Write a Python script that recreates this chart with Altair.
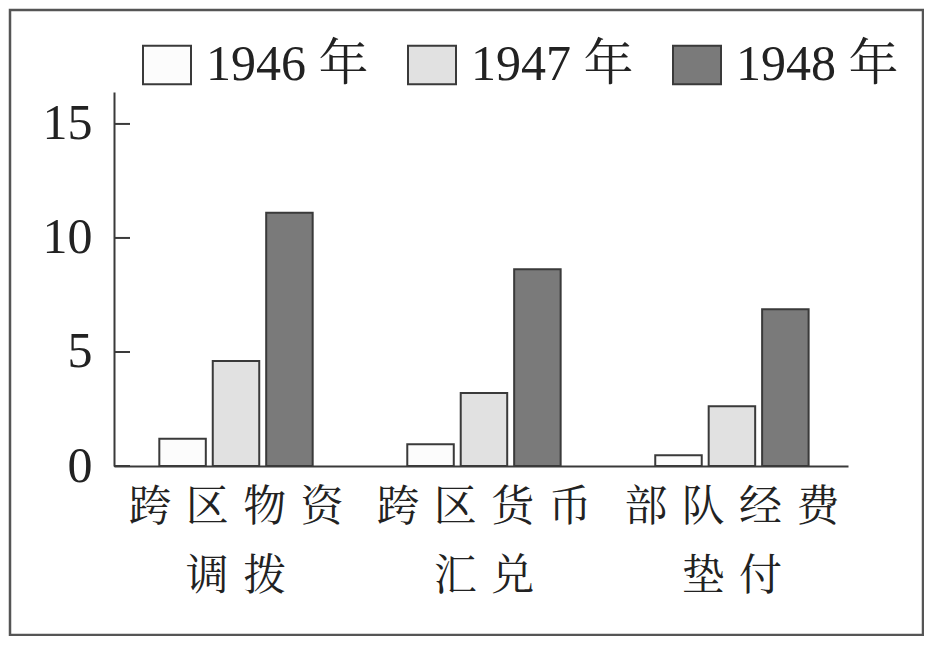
import altair as alt
import pandas as pd

# ---- data ----
categories = ["跨区物资调拨", "跨区货币汇兑", "部队经费垫付"]
label_lines = [["跨区物资", "调拨"], ["跨区货币", "汇兑"], ["部队经费", "垫付"]]
years = ["1946 年", "1947 年", "1948 年"]
v1946 = [1.2, 0.95, 0.47]
v1947 = [4.6, 3.2, 2.62]
v1948 = [11.1, 8.63, 6.87]
y_ticks = [0, 5, 10, 15]
colors = ["#fcfcfc", "#e1e1e1", "#7a7a7a"]

rows = []
for i, c in enumerate(categories):
    for y, vals in zip(years, [v1946, v1947, v1948]):
        rows.append({"category": c, "year": y, "value": vals[i]})
df = pd.DataFrame(rows)
tick_df = pd.DataFrame({"value": y_ticks})

SP = "\u2004"
def lbl(parts):
    return "[" + ", ".join("'" + SP.join(list(p)) + "'" for p in parts) + "]"

expr = "''"
for c, parts in reversed(list(zip(categories, label_lines))):
    expr = f"datum.value == '{c}' ? {lbl(parts)} : ({expr})"

SERIF = "Liberation Serif, Noto Serif CJK SC, Noto Sans CJK SC"
CJK = "Noto Serif CJK SC, Noto Sans CJK SC"
DARK = "#3a3a3a"

yscale = alt.Scale(domain=[0, 16.4], nice=False, zero=True)
yaxis = alt.Axis(title=None, values=y_ticks, ticks=False, grid=False,
                 domainColor=DARK, domainWidth=2,
                 labelFont=SERIF, labelFontSize=50, labelColor="#222",
                 labelPadding=22)

bars = alt.Chart(df).mark_bar(stroke=DARK, strokeWidth=2).encode(
    x=alt.X("category:N", sort=categories,
            scale=alt.Scale(paddingInner=0.3815, paddingOuter=0.1708, align=0.535),
            axis=alt.Axis(title=None, labelAngle=0, ticks=False,
                          domainColor=DARK, domainWidth=2,
                          labelFont=CJK, labelFontSize=43, labelColor="#222",
                          labelLineHeight=69, labelPadding=20,
                          labelBaseline="top", labelExpr=expr, labelLimit=400)),
    xOffset=alt.XOffset("year:N", sort=years,
                        scale=alt.Scale(paddingInner=0.13, paddingOuter=0)),
    y=alt.Y("value:Q", scale=yscale, axis=yaxis),
    fill=alt.Fill("year:N", sort=years,
                  scale=alt.Scale(domain=years, range=colors),
                  legend=alt.Legend(title=None, orient="none", legendX=28, legendY=-52,
                                    direction="horizontal", columns=3,
                                    symbolType="M-1,-0.8H1V0.8H-1Z", symbolSize=2304,
                                    symbolStrokeColor=DARK, symbolStrokeWidth=2,
                                    symbolOpacity=1,
                                    labelFont=SERIF, labelFontSize=50, labelColor="#222",
                                    labelOffset=14, labelLimit=400,
                                    columnPadding=35, padding=0)),
)

ticks = alt.Chart(tick_df).mark_rule(color=DARK, strokeWidth=2).encode(
    y=alt.Y("value:Q", scale=yscale, axis=yaxis),
    x=alt.value(0), x2=alt.value(16),
)

frame = alt.Chart(pd.DataFrame({"a": [0]})).mark_rect(
    fillOpacity=0, stroke="#555555", strokeWidth=2.5
).encode(x=alt.value(-104), x2=alt.value(809), y=alt.value(-82), y2=alt.value(543))

chart = alt.layer(frame, bars, ticks).properties(
    width=734, height=374,
    padding={"left": 106, "top": 84, "right": 76, "bottom": 170},
    autosize=alt.AutoSizeParams(type="none"),
    background="white",
).configure_view(stroke=None)

chart.save("out.html", embed_options={"renderer": "svg", "actions": False})
